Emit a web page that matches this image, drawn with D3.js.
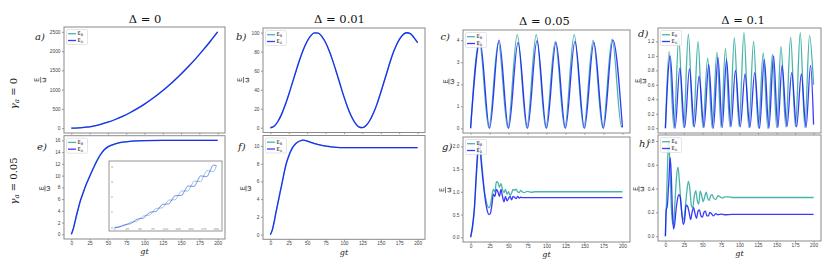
<!DOCTYPE html>
<html>
<head>
<meta charset="utf-8">
<script src="https://cdn.jsdelivr.net/npm/d3@7"></script>
<style>
  body { margin: 0; background: #fff; }
  svg { display: block; font-family: "DejaVu Sans", sans-serif; }
</style>
</head>
<body>
<svg id="chart" width="831" height="264"></svg>
<script>
// ---- data (gt on x, E/omega on y) ----
const xTicks = [0, 25, 50, 75, 100, 125, 150, 175, 200];

// a) gamma=0, Delta=0
const aT   = [0,10,20,30,40,50,60,70,80,90,100,110,120,130,140,150,160,170,180,190,200];
const aEB  = [0,6,25,56,100,156,225,306,400,506,625,756,900,1056,1225,1406,1600,1806,2025,2256,2500];
const aEA  = [0,6,25,56,100,156,225,306,400,506,625,756,900,1056,1225,1406,1600,1806,2025,2256,2500];
const aTicks = [0,500,1000,1500,2000,2500];

// b) gamma=0, Delta=0.01
const bT   = [0,5,10,15,20,25,30,35,40,45,50,55,60,65,70,75,80,85,90,95,100,105,110,115,120,125,130,135,140,145,150,155,160,165,170,175,180,185,190,195,200];
const bEB  = [0,1.6,6.3,13.8,23.6,35,47.5,60,72,82.6,91,96.9,99.7,99.4,95.9,89.6,80.6,69.8,57.6,44.9,32.5,21.4,12,5.1,1,0.1,2.3,7.6,15.5,25.4,37.4,50,62.6,74.9,84.8,92.6,97.7,99.9,99,94.8,89.5];
const bEA  = [0,1.6,6.3,13.8,23.6,35,47.5,60,72,82.6,91,96.9,99.7,99.4,95.9,89.6,80.6,69.8,57.6,44.9,32.5,21.4,12,5.1,1,0.1,2.3,7.6,15.5,25.4,37.4,50,62.6,74.9,84.8,92.6,97.7,99.9,99,94.8,89.5];
const bTicks = [0,20,40,60,80,100];

// c) gamma=0, Delta=0.05  (peaks and troughs)
const cEBt = [0,11.5,24,36.5,49,61.5,74,86.5,99,111.5,124,136.5,149,161.5,174,186.5,199,200];
const cEB  = [0,3.95,0.02,3.9,0.02,4.25,0.02,4.25,0.02,3.95,0.02,4.25,0.02,4.0,0.02,4.05,0.05,0.1];
const cEAt = [0,12.5,25,37.5,50,62.5,75,87.5,100,112.5,125,137.5,150,162.5,175,187.5,200];
const cEA  = [0,3.95,0,4.0,0,3.9,0,3.98,0,3.9,0,3.95,0,3.9,0,4.0,0.05];
const cTicks = [0,1,2,3,4];

// d) gamma=0, Delta=0.1  (peaks and troughs)
const dEBt = [0,5,11.5,18,24.5,31,37.5,44,50.5,57,63.2,69.5,75.2,81,87,93,99.5,106,112.5,119,125.5,132,138.2,144.5,150.2,156,162.5,169,175.5,182,188.2,194.5,200];
const dEB  = [0,1.06,0,1.25,0.01,1.3,0.02,1.2,0.01,0.97,0,1.05,0.01,1.1,0.02,1.25,0.02,1.32,0.01,1.2,0,1.04,0,1.02,0.01,1.13,0.02,1.26,0.02,1.32,0.01,1.28,0.6];
const dEAt = [0,6.5,13,19.5,26,32.5,39,45.5,52,58.5,64.7,71,76.7,82.5,88.5,94.5,101,107.5,114,120.5,127,133.5,139.7,146,151.7,157.5,164,170.5,177,183.5,189.7,196,200];
const dEA  = [0,1.0,0,0.83,0.01,0.82,0.02,0.72,0.01,0.88,0,0.98,0.01,0.95,0.02,0.8,0.02,0.75,0.01,0.77,0,0.95,0,1.0,0.01,0.87,0.02,0.77,0.02,0.75,0.01,0.87,0.05];
const dTicks = [0,0.2,0.4,0.6,0.8,1.0,1.2];

// e) gamma=0.05, Delta=0
const eT   = [0,2.5,5,7.5,10,12.5,15,17.5,20,22.5,25,30,35,40,45,50,60,70,80,90,100,125,150,175,200];
const eEB  = [0,0.8,2.0,3.3,4.5,5.7,6.6,7.5,8.4,9.2,9.9,11.3,12.6,13.6,14.4,14.9,15.4,15.7,15.85,15.92,15.96,16,16,16,16];
const eEA  = [0,0.9,2.2,3.5,4.7,5.8,6.7,7.6,8.4,9.1,9.8,11.2,12.5,13.6,14.4,14.9,15.4,15.7,15.85,15.92,15.96,16,16,16,16];
const eTicks = [0,2,4,6,8,10,12,14,16];
// e) inset
const insT   = [0,6.25,12.5,18.75,25,31.25,37.5,43.75,50,56.25,62.5,68.75,75,81.25,87.5,93.75,100,106.25,112.5,118.75,125,131.25,137.5,143.75,150,156.25,162.5,168.75,175,181.25,187.5,193.75,200];
const insEB  = [0,0.054,0.085,0.114,0.223,0.353,0.394,0.427,0.589,0.768,0.804,0.834,1.039,1.261,1.289,1.307,1.553,1.816,1.832,1.838,2.123,2.423,2.426,2.419,2.74,3.078,3.066,3.043,3.401,3.774,3.746,3.708,4.1];
const insEA  = [0,0.01,0.085,0.184,0.223,0.257,0.394,0.549,0.589,0.62,0.804,1.006,1.039,1.063,1.289,1.531,1.553,1.566,1.832,2.114,2.123,2.123,2.426,2.745,2.74,2.726,3.066,3.421,3.401,3.37,3.746,4.136,4.1];
const insTicks = [0,1,2,3,4];

// f) gamma=0.05, Delta=0.01
const fT   = [0,2.5,5,7.5,10,12.5,15,17.5,20,22.5,25,27.5,30,35,40,45,50,55,60,65,70,80,90,100,125,150,200];
const fEB  = [0,0.45,1.3,2.4,3.4,4.4,5.4,6.4,7.4,8.2,8.8,9.35,9.75,10.3,10.55,10.64,10.55,10.4,10.26,10.15,10.05,9.93,9.84,9.81,9.8,9.8,9.8];
const fEA  = [0,0.5,1.4,2.5,3.5,4.5,5.5,6.5,7.5,8.3,8.9,9.4,9.8,10.3,10.55,10.64,10.55,10.4,10.26,10.15,10.05,9.93,9.84,9.81,9.8,9.8,9.8];
const fTicks = [0,2,4,6,8,10];

// g) gamma=0.05, Delta=0.05
const gT   = [0,2.5,5,7.5,10,12,14,16,18,20,22,24,26,28,30,32,34,36,38,40,42,44,46,48,50,52,54,56,58,60,62,64,66,68,70,75,80,85,90,100,200];
const gEB  = [0,0.2,0.6,1.3,1.9,2.05,1.75,1.4,1.05,0.85,0.7,0.65,0.7,0.9,1.05,1.0,1.22,1.2,1.1,1.18,1.05,0.98,1.05,0.95,1.0,0.92,0.97,1.05,1.03,1.06,1.0,0.98,1.03,1.0,0.98,1.01,0.99,1.0,1.0,1.0,1.0];
const gEA  = [0,0.25,0.65,1.4,2.0,2.1,1.65,1.3,1.0,0.75,0.58,0.5,0.52,0.7,0.95,0.9,1.05,1.0,0.9,1.05,0.9,0.78,0.9,0.8,0.85,0.9,0.82,0.9,0.88,0.85,0.9,0.86,0.88,0.87,0.87,0.87,0.87,0.87,0.87,0.87,0.87];
const gTicks = [0,0.5,1.0,1.5,2.0];

// h) gamma=0.05, Delta=0.1
const hEBt = [0,1.5,3,4.5,6,8,10,11,13,15,17,19,21,23,25,27,29,31,33,35,37,39,41,43,45,47,49,51,53,55,57,59,61,63,65,68,71,74,77,80,85,90,100,200];
const hEB  = [0,0.3,0.62,0.81,0.6,0.24,0.1,0.11,0.3,0.5,0.58,0.45,0.27,0.16,0.14,0.25,0.38,0.46,0.4,0.26,0.24,0.34,0.38,0.3,0.27,0.38,0.34,0.29,0.33,0.37,0.32,0.3,0.34,0.35,0.32,0.31,0.34,0.33,0.32,0.33,0.33,0.325,0.325,0.325];
const hEAt = [0,1,2.5,4.5,6.5,8,9.5,11,12.5,14,16,18,20,22,24,26,28,30,32,34,36,38,40,42,44,46,48,50,52,54,56,58,60,62,65,68,71,75,80,90,200];
const hEA  = [0,0.22,0.25,0.45,0.66,0.5,0.2,0.06,0.1,0.2,0.3,0.35,0.33,0.2,0.1,0.14,0.26,0.25,0.2,0.14,0.2,0.24,0.19,0.15,0.21,0.22,0.17,0.16,0.2,0.21,0.17,0.17,0.2,0.19,0.17,0.19,0.18,0.185,0.18,0.183,0.183];
const hTicks = [0,0.2,0.4,0.6,0.8];

const titles = ['Δ = 0', 'Δ = 0.01', 'Δ = 0.05', 'Δ = 0.1'];
const rowLabels = ['0', '0.05'];

// ---- drawing ----
const teal = '#2aa79b';
const blue = '#1717ff';
const frameColor = '#8a8a8a';
const tickColor = '#555';
const svg = d3.select('#chart');

const panels = [
  { lab: 'a)', box: [64, 27, 225, 133],     t: [aT, aT],     v: [aEB, aEA], yt: aTicks, fmt: d3.format('d'),   bottom: false, lp: [35, 40],  yl: [40.7, 80] },
  { lab: 'b)', box: [263, 28, 425, 132.5],  t: [bT, bT],     v: [bEB, bEA], yt: bTicks, fmt: d3.format('d'),   bottom: false, lp: [236, 40], yl: [243.5, 80] },
  { lab: 'c)', box: [463, 30, 630, 133],    t: [cEBt, cEAt], v: [cEB, cEA], yt: cTicks, fmt: d3.format('d'),   bottom: false, lp: [440.5, 40], yl: [449, 81.5] },
  { lab: 'd)', box: [658, 28, 821, 133],    t: [dEBt, dEAt], v: [dEB, dEA], yt: dTicks, fmt: d3.format('.1f'), bottom: false, lp: [638, 37], yl: [641, 81] },
  { lab: 'e)', box: [64, 135.7, 225, 239],  t: [eT, eT],     v: [eEB, eEA], yt: eTicks, fmt: d3.format('d'),   bottom: true,  lp: [37, 150], yl: [45, 188.5], inset: true },
  { lab: 'f)', box: [263, 135.5, 425, 239.3], t: [fT, fT],   v: [fEB, fEA], yt: fTicks, fmt: d3.format('d'),   bottom: true,  lp: [238, 150], yl: [246, 188.5] },
  { lab: 'g)', box: [463, 137, 630, 242],   t: [gT, gT],     v: [gEB, gEA], yt: gTicks, fmt: d3.format('.1f'), bottom: true,  lp: [442, 150], yl: [445.5, 190] },
  { lab: 'h)', box: [658, 135, 821, 241],   t: [hEBt, hEAt], v: [hEB, hEA], yt: hTicks, fmt: d3.format('.1f'), bottom: true,  lp: [639, 147], yl: [639, 189] }
];

function styleAxis(sel) {
  sel.select('.domain').remove();
  sel.selectAll('line').attr('stroke', tickColor).attr('stroke-width', 0.6);
  sel.selectAll('text').attr('fill', '#444').attr('font-size', 4.8);
}

function drawLegend(g, x0, y0) {
  const lg = g.append('g').attr('transform', `translate(${x0 + 2.5},${y0 + 2.5})`);
  lg.append('rect').attr('width', 21).attr('height', 15).attr('rx', 1.5)
    .attr('fill', '#fff').attr('fill-opacity', 0.85)
    .attr('stroke', '#d4d4d4').attr('stroke-width', 0.6);
  [['B', teal, 4.2], ['A', blue, 11]].forEach(([sub, c, yy]) => {
    lg.append('line').attr('x1', 1.5).attr('x2', 9.5).attr('y1', yy).attr('y2', yy)
      .attr('stroke', c).attr('stroke-width', 1.3).attr('stroke-opacity', 0.85);
    const t = lg.append('text').attr('x', 11).attr('y', yy + 1.7)
      .attr('font-size', 5).attr('fill', '#333').text('E');
    t.append('tspan').attr('font-size', 3.6).attr('dy', 0.9).text(sub);
  });
}

function drawPanel(p, i) {
  const [x0, y0, x1, y1] = p.box;
  const g = svg.append('g');
  g.append('rect').attr('x', x0).attr('y', y0).attr('width', x1 - x0).attr('height', y1 - y0).attr('fill', '#fff');

  const all = p.v[0].concat(p.v[1]);
  const lo = d3.min(all), hi = d3.max(all), pad = (hi - lo) * 0.05;
  const x = d3.scaleLinear().domain([-10, 210]).range([x0, x1]);
  const y = d3.scaleLinear().domain([lo - pad, hi + pad]).range([y1, y0]);

  const clipId = 'clip' + i;
  g.append('clipPath').attr('id', clipId).append('rect')
    .attr('x', x0).attr('y', y0).attr('width', x1 - x0).attr('height', y1 - y0);

  const line = d3.line().x(d => x(d[0])).y(d => y(d[1])).curve(d3.curveMonotoneX);
  [teal, blue].forEach((c, k) => {
    const pts = p.t[k].map((tt, j) => [tt, p.v[k][j]]);
    g.append('path').attr('clip-path', `url(#${clipId})`).datum(pts).attr('d', line)
      .attr('fill', 'none').attr('stroke', c).attr('stroke-width', 1.3).attr('stroke-opacity', 0.85);
  });

  g.append('g').attr('transform', `translate(${x0},0)`)
    .call(d3.axisLeft(y).tickValues(p.yt).tickFormat(p.fmt).tickSize(2).tickPadding(1.5))
    .call(styleAxis);
  g.append('g').attr('transform', `translate(0,${y1})`)
    .call(d3.axisBottom(x).tickValues(xTicks).tickSize(1.6).tickPadding(0.8)
      .tickFormat(p.bottom ? d3.format('d') : ''))
    .call(styleAxis);

  if (p.inset) drawInset(g);

  g.append('rect').attr('x', x0).attr('y', y0).attr('width', x1 - x0).attr('height', y1 - y0)
    .attr('fill', 'none').attr('stroke', frameColor).attr('stroke-width', 1);

  drawLegend(g, x0, y0);

  // panel letter
  g.append('text').attr('x', p.lp[0]).attr('y', p.lp[1])
    .attr('font-family', '"DejaVu Serif", serif').attr('font-style', 'italic')
    .attr('font-size', 10).attr('fill', '#222').text(p.lab);

  // E / omega label, rotated fraction
  const yl = g.append('g').attr('transform', `translate(${p.yl[0]},${p.yl[1]}) rotate(-90)`);
  yl.append('text').attr('x', 0).attr('y', -1.3).attr('text-anchor', 'middle')
    .attr('font-size', 6.5).attr('fill', '#222').text('E');
  yl.append('line').attr('x1', -3).attr('x2', 3).attr('y1', 0).attr('y2', 0)
    .attr('stroke', '#222').attr('stroke-width', 0.6);
  yl.append('text').attr('x', 0).attr('y', 5.2).attr('text-anchor', 'middle')
    .attr('font-size', 6.5).attr('fill', '#222').text('ω');

  if (p.bottom) {
    g.append('text').attr('x', (x(0) + x(200)) / 2).attr('y', y1 + 15.3)
      .attr('text-anchor', 'middle').attr('font-family', '"DejaVu Serif", serif')
      .attr('font-style', 'italic').attr('font-size', 8).attr('fill', '#222').text('gt');
  }
}

function drawInset(g) {
  const bx0 = 109, by0 = 161, bx1 = 222, by1 = 231;
  const ig = g.append('g');
  ig.append('rect').attr('x', bx0).attr('y', by0).attr('width', bx1 - bx0).attr('height', by1 - by0)
    .attr('fill', '#fff');
  const all = insEB.concat(insEA);
  const hi = d3.max(all), pad = hi * 0.05;
  const x = d3.scaleLinear().domain([-10, 210]).range([bx0 + 0.5, bx1 - 0.5]);
  const y = d3.scaleLinear().domain([-pad, hi + pad]).range([by1 - 0.3, by0 + 1]);
  const line = d3.line().x(d => x(d[0])).y(d => y(d[1])).curve(d3.curveMonotoneX);
  [[insEB, teal], [insEA, blue]].forEach(([vals, c]) => {
    ig.append('path').datum(insT.map((tt, j) => [tt, vals[j]])).attr('d', line)
      .attr('fill', 'none').attr('stroke', c).attr('stroke-width', 0.8).attr('stroke-opacity', 0.65);
  });
  insTicks.forEach(v => {
    ig.append('text').attr('x', bx0 + 3).attr('y', y(v) + 1).attr('text-anchor', 'middle')
      .attr('font-size', 2.8).attr('fill', '#777').text(v);
  });
  xTicks.forEach(v => {
    ig.append('text').attr('x', x(v)).attr('y', by1 - 1.2).attr('text-anchor', 'middle')
      .attr('font-size', 2.8).attr('fill', '#777').text(v);
  });
  ig.append('rect').attr('x', bx0).attr('y', by0).attr('width', bx1 - bx0).attr('height', by1 - by0)
    .attr('fill', 'none').attr('stroke', frameColor).attr('stroke-width', 0.9);
}

panels.forEach(drawPanel);

// column titles
const titlePos = [[145, 23.3], [339.5, 22.7], [544.5, 25], [743, 24]];
titles.forEach((t, i) => {
  svg.append('text').attr('x', titlePos[i][0]).attr('y', titlePos[i][1])
    .attr('text-anchor', 'middle').attr('font-family', '"DejaVu Serif", serif')
    .attr('font-size', 11.5).attr('fill', '#111').text(t);
});

// row labels
const rowPos = [[16.5, 93.5], [16.5, 181]];
rowLabels.forEach((r, i) => {
  const t = svg.append('text')
    .attr('transform', `translate(${rowPos[i][0]},${rowPos[i][1]}) rotate(-90)`)
    .attr('text-anchor', 'middle').attr('font-family', '"DejaVu Serif", serif')
    .attr('font-size', 10).attr('fill', '#111');
  t.append('tspan').attr('font-style', 'italic').text('γ');
  t.append('tspan').attr('font-size', 7).attr('font-style', 'italic').attr('dy', 2).text('a');
  t.append('tspan').attr('dy', -2).text(' = ' + r);
});
</script>
</body>
</html>
